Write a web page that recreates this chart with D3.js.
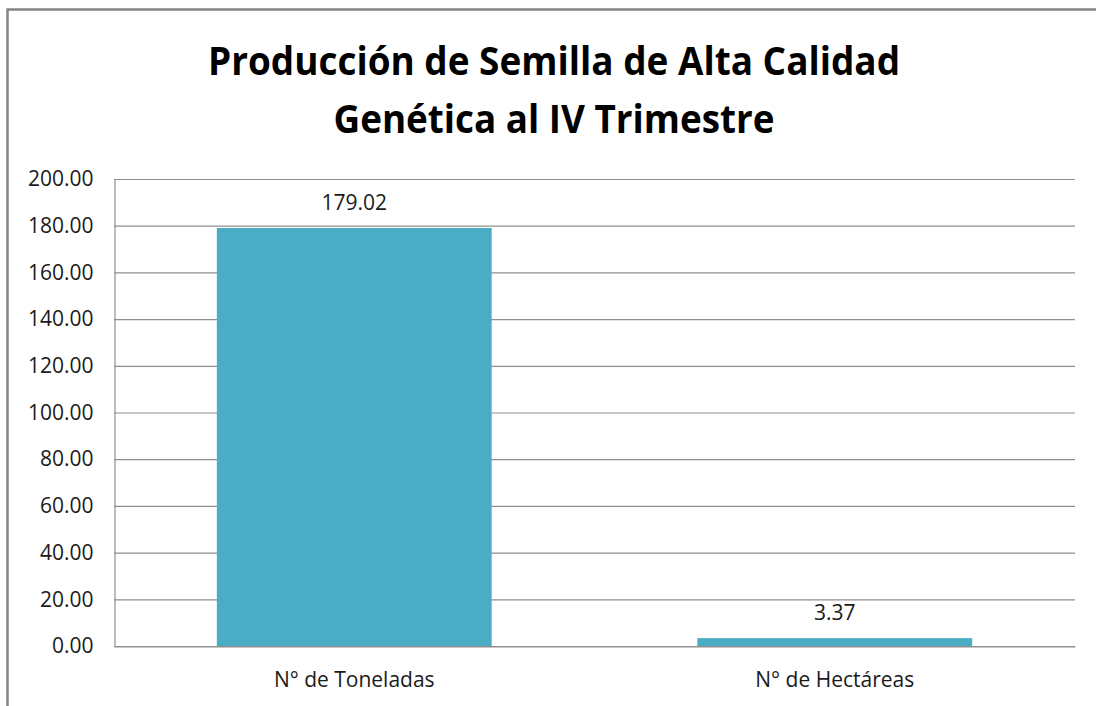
<!DOCTYPE html>
<html>
<head>
<meta charset="utf-8">
<script src="https://cdn.jsdelivr.net/npm/d3@7"></script>
<style>
  html, body { margin: 0; padding: 0; background: #fff; overflow: hidden; }
  svg { display: block; }
  text { font-family: "Open Sans", "Noto Sans", sans-serif; fill: #1a1a1a; }
</style>
</head>
<body>
<svg id="chart" width="1096" height="706"></svg>
<script>
const titleLines = ["Producción de Semilla de Alta Calidad", "Genética al IV Trimestre"];
const categories = ["N° de Toneladas", "N° de Hectáreas"];
const values = [179.02, 3.37];
const valueLabels = ["179.02", "3.37"];
const yTicks = [0, 20, 40, 60, 80, 100, 120, 140, 160, 180, 200];

const svg = d3.select("#chart");
const W = 1096, H = 706;
const m = { left: 114, right: 21, top: 179, bottom: 60 };

// outer chart border (only top and left visible in reference)
svg.append("path")
  .attr("d", `M7.5,${H} V9.5 H${W}`)
  .attr("fill", "none").attr("stroke", "#858585").attr("stroke-width", 2.5);

// title
const tl = [{ y: 75, len: 692 }, { y: 133, len: 441 }];
titleLines.forEach((t, i) => {
  svg.append("text")
    .attr("x", 554).attr("y", tl[i].y)
    .attr("text-anchor", "middle")
    .attr("font-size", 40).attr("font-weight", 700)
    .attr("textLength", tl[i].len).attr("lengthAdjust", "spacingAndGlyphs")
    .style("fill", "#000")
    .text(t);
});

const x = d3.scaleBand().domain(categories)
  .range([m.left, W - m.right]).paddingInner(0.428).paddingOuter(0.214);
const y = d3.scaleLinear().domain([0, 200]).range([646, m.top]);

// gridlines
svg.append("g").selectAll("line").data(yTicks).join("line")
  .attr("x1", m.left).attr("x2", W - m.right)
  .attr("y1", d => y(d) + 0.5).attr("y2", d => y(d) + 0.5)
  .attr("stroke", "#8f8f8f").attr("stroke-width", 1.2);

// y axis
const yAxis = svg.append("g").attr("transform", `translate(${m.left + 0.5},0)`)
  .call(d3.axisLeft(y).tickValues(yTicks).tickFormat(d3.format(".2f")).tickSize(0).tickPadding(21));
yAxis.select(".domain").attr("stroke", "#8f8f8f").attr("stroke-width", 1.2);
yAxis.selectAll("text").attr("font-size", 21).style("font-family", "'Open Sans', sans-serif").style("fill", "#1a1a1a");

// bars
svg.append("g").selectAll("rect").data(values).join("rect")
  .attr("x", (d, i) => x(categories[i]))
  .attr("width", x.bandwidth())
  .attr("y", d => y(d))
  .attr("height", d => y(0) - y(d))
  .attr("fill", "#4BACC6");

// x axis baseline
const xAxis = svg.append("g").attr("transform", `translate(0,${y(0) + 0.5})`)
  .call(d3.axisBottom(x).tickSize(0).tickPadding(26));
xAxis.select(".domain").attr("stroke", "#8f8f8f").attr("stroke-width", 1.2);
xAxis.selectAll("text").attr("font-size", 21).style("font-family", "'Open Sans', sans-serif").style("fill", "#1a1a1a");

// data labels
svg.append("g").selectAll("text").data(values).join("text")
  .attr("x", (d, i) => x(categories[i]) + x.bandwidth() / 2)
  .attr("y", d => y(d) - 18)
  .attr("text-anchor", "middle")
  .attr("font-size", 21)
  .text((d, i) => valueLabels[i]);
</script>
</body>
</html>
